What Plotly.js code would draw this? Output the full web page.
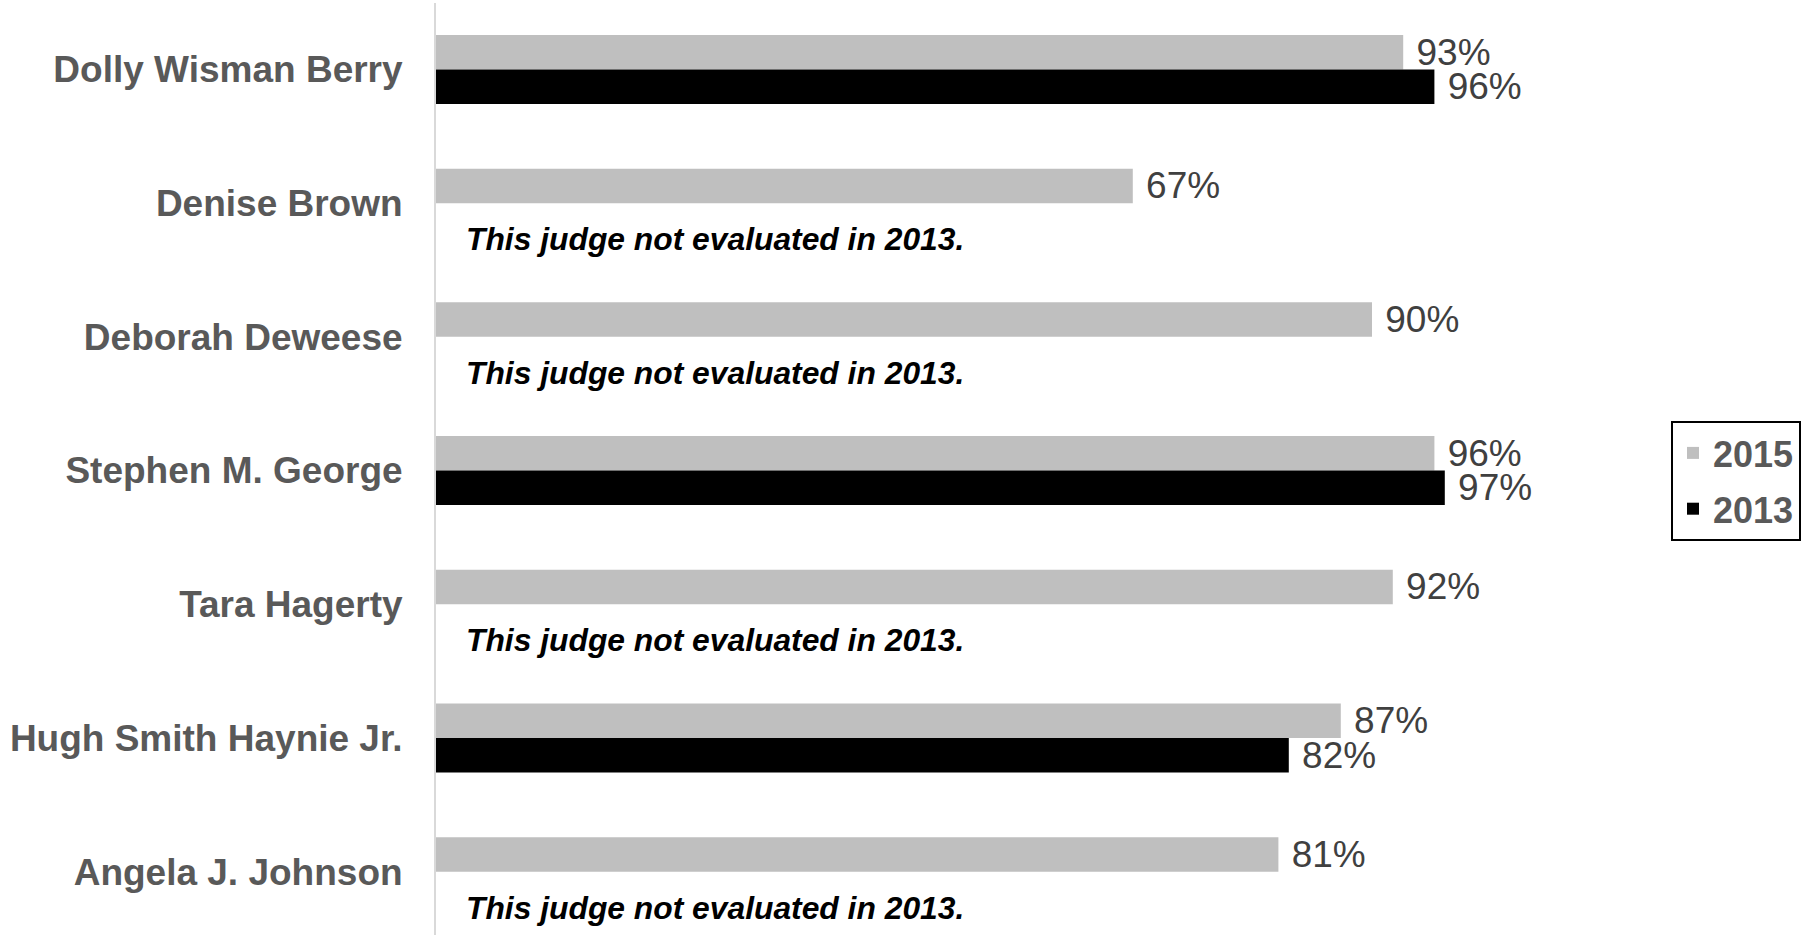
<!DOCTYPE html>
<html>
<head>
<meta charset="utf-8">
<script src="https://cdn.plot.ly/plotly-3.0.1.min.js"></script>
<style>html,body{margin:0;padding:0;background:#fff}#chart{width:1808px;height:935px}</style>
</head>
<body>
<div id="chart"></div>
<script>
const judges = ["Dolly Wisman Berry","Denise Brown","Deborah Deweese","Stephen M. George","Tara Hagerty","Hugh Smith Haynie Jr.","Angela J. Johnson"];
const v2015 = [0.93,0.67,0.90,0.96,0.92,0.87,0.81];
const v2013 = [0.96,null,null,0.97,null,0.82,null];
const seriesNames = ["2015","2013"];
const noteText = "This judge not evaluated in 2013.";

const font = "Liberation Sans, Arial, sans-serif";
const valFont = {family: font, size: 37, color: "#404040"};

function mk(name, vals, color){
  return {
    type: "bar", orientation: "h", name: name, legendgroup: name,
    y: judges, x: vals,
    marker: {color: color, line: {width: 0}},
    text: vals.map(v => v === null ? "" : "\u00a0" + Math.round(v*100) + "%"),
    textposition: "outside",
    outsidetextfont: valFont,
    textfont: valFont,
    constraintext: "none",
    cliponaxis: false,
    hoverinfo: "skip"
  };
}

const traces = [mk(seriesNames[0], v2015, "#bfbfbf"), mk(seriesNames[1], v2013, "#000000")];

const annotations = [];
judges.forEach((j, i) => {
  if (v2013[i] === null) {
    annotations.push({
      xref: "x", yref: "y", x: 0.027, y: i + 0.27,
      text: "<b><i>" + noteText + "</i></b>",
      showarrow: false, xanchor: "left", yanchor: "middle",
      font: {family: font, size: 31.8, color: "#000000"}
    });
  }
});

const layout = {
  width: 1808, height: 935,
  margin: {l: 436, r: 332, t: 3, b: 0},
  paper_bgcolor: "#ffffff", plot_bgcolor: "#ffffff",
  barmode: "group", bargap: 0.484, bargroupgap: 0,
  xaxis: {range: [0, 1], showgrid: false, zeroline: false, showticklabels: false, showline: false, fixedrange: true},
  yaxis: {
    type: "category", range: [6.474, -0.497],
    showgrid: false, zeroline: false,
    showline: true, linecolor: "#d9d9d9", linewidth: 2,
    ticks: "", ticklabelstandoff: 24,
    tickfont: {family: font, size: 37, color: "#595959", weight: "bold"}
  },
  showlegend: true,
  legend: {
    xref: "container", yref: "container",
    x: 1671/1808, y: 1 - 421/935, xanchor: "left", yanchor: "top",
    bordercolor: "#000000", borderwidth: 2, bgcolor: "#ffffff",
    font: {family: font, size: 36, color: "#595959", weight: "bold"},
    itemwidth: 30, traceorder: "grouped", tracegroupgap: 6
  },
  annotations: annotations
};

Plotly.newPlot("chart", traces, layout, {displayModeBar: false, staticPlot: true});
</script>
</body>
</html>
